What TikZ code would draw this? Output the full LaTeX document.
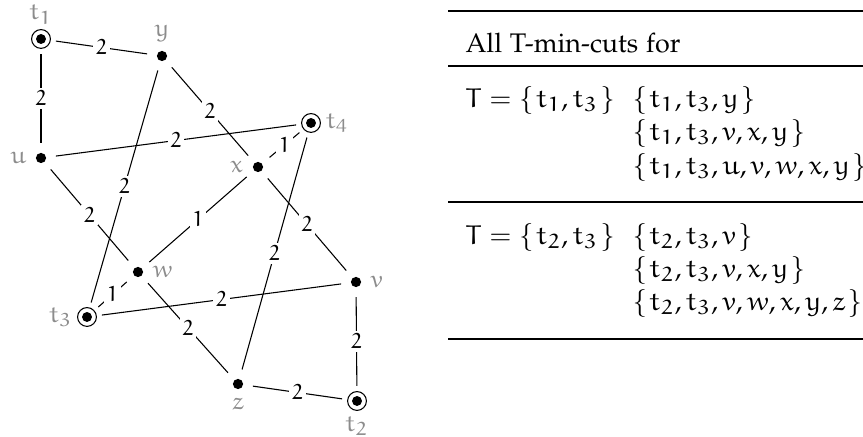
\documentclass[tikz,border=0pt]{standalone}
\usepackage[T1]{fontenc}
\usepackage[sc]{mathpazo}
\usetikzlibrary{positioning}
\definecolor{lblgray}{gray}{0.55}

% upright Euler letters and digits for math
\DeclareFontFamily{U}{eur}{\skewchar\font'177}
\DeclareFontShape{U}{eur}{m}{n}{<-6>eurm5<6-8>eurm7<8->eurm10}{}
\DeclareSymbolFont{eulerletters}{U}{eur}{m}{n}
\DeclareMathSymbol{t}{\mathalpha}{eulerletters}{`t}
\DeclareMathSymbol{u}{\mathalpha}{eulerletters}{`u}
\DeclareMathSymbol{v}{\mathalpha}{eulerletters}{`v}
\DeclareMathSymbol{w}{\mathalpha}{eulerletters}{`w}
\DeclareMathSymbol{x}{\mathalpha}{eulerletters}{`x}
\DeclareMathSymbol{y}{\mathalpha}{eulerletters}{`y}
\DeclareMathSymbol{z}{\mathalpha}{eulerletters}{`z}
\DeclareMathSymbol{T}{\mathalpha}{eulerletters}{`T}
\DeclareMathSymbol{1}{\mathalpha}{eulerletters}{`1}
\DeclareMathSymbol{2}{\mathalpha}{eulerletters}{`2}
\DeclareMathSymbol{3}{\mathalpha}{eulerletters}{`3}
\DeclareMathSymbol{4}{\mathalpha}{eulerletters}{`4}
\newcommand{\vset}[1]{\{\mskip1.5mu #1\mskip1.5mu\}}

\begin{document}
\begin{tikzpicture}[
    x=0.372pt, y=-0.372pt,
    vtx/.style={circle, fill, inner sep=0pt, minimum size=3.8pt, outer sep=3.7pt},
    term/.style={circle, draw, inner sep=0pt, minimum size=7pt, outer sep=2.1pt,
      path picture={\fill (path picture bounding box.center) circle (1.85pt);}},
    wt/.style={font=\footnotesize, fill=white, inner sep=1pt},
    every label/.style={font=\small, text=lblgray, inner sep=0pt},
    label distance=-0.3pt,
    cell/.style={anchor=west, inner sep=0pt},
    toprule/.style={line width=0.8pt},
    midrule/.style={line width=0.5pt}
  ]
    \useasboundingbox (0,0) rectangle (863,437);

    % --- GRAPH ---
    \node[term] (t1) at (41,39)   [label=above:$t_1$] {};
    \node[vtx]  (y)  at (162,56)  [label=above:$y$]   {};
    \node[vtx]  (u)  at (41,158)  [label=left:$u$]    {};
    \node[vtx]  (x)  at (258,167) [label=left:$x$]    {};
    \node[term] (t4) at (311,123) [label=right:$t_4$] {};
    \node[vtx]  (w)  at (138,272) [label=right:$w$]   {};
    \node[vtx]  (v)  at (356,282) [label=right:$v$]   {};
    \node[term] (t3) at (87,317)  [label=left:$t_3$]  {};
    \node[vtx]  (z)  at (238,384) [label=below:$z$]   {};
    \node[term] (t2) at (357,401) [label=below:$t_2$] {};

    % edges with capacities
    \draw (t1) -- node[wt]{$2$} (y);
    \draw (t1) -- node[wt]{$2$} (u);
    \draw (y)  -- node[wt]{$2$} (x);
    \draw (y)  -- node[wt]{$2$} (t3);
    \draw (u)  -- node[wt]{$2$} (t4);
    \draw (u)  -- node[wt]{$2$} (w);
    \draw (x)  -- node[wt]{$1$} (t4);
    \draw (x)  -- node[wt]{$1$} (w);
    \draw (x)  -- node[wt]{$2$} (v);
    \draw (t4) -- node[wt]{$2$} (z);
    \draw (w)  -- node[wt]{$1$} (t3);
    \draw (w)  -- node[wt]{$2$} (z);
    \draw (t3) -- node[wt]{$2$} (v);
    \draw (z)  -- node[wt]{$2$} (t2);
    \draw (v)  -- node[wt]{$2$} (t2);

    % --- TABLE ---
    \draw[toprule] (448,11)  -- (863,11);
    \node[cell] (hdr) at (465,43) {All T-min-cuts for};
    \draw[midrule] (448,66)  -- (863,66);

    \node[cell] (set13)  at (465,100) {$T=\vset{t_1,t_3}$};
    \node[cell] (cut13a) at (632,100) {$\vset{t_1,t_3,y}$};
    \node[cell] (cut13b) at (632,133) {$\vset{t_1,t_3,v,x,y}$};
    \node[cell] (cut13c) at (632,167) {$\vset{t_1,t_3,u,v,w,x,y}$};
    \draw[midrule] (448,202) -- (863,202);

    \node[cell] (set23)  at (465,237) {$T=\vset{t_2,t_3}$};
    \node[cell] (cut23a) at (632,237) {$\vset{t_2,t_3,v}$};
    \node[cell] (cut23b) at (632,270) {$\vset{t_2,t_3,v,x,y}$};
    \node[cell] (cut23c) at (632,303) {$\vset{t_2,t_3,v,w,x,y,z}$};
    \draw[toprule] (448,339) -- (863,339);
  \end{tikzpicture}
\end{document}
